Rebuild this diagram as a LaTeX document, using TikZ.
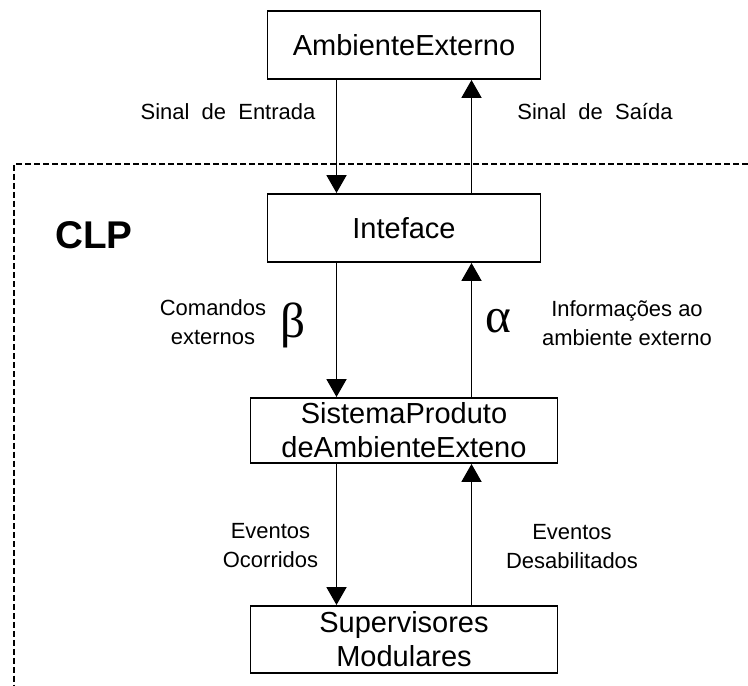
\documentclass[tikz,border=0pt]{standalone}
\usepackage{fontspec}
\setmainfont{Liberation Sans}
\newfontfamily\greekfont{Liberation Serif}
\usetikzlibrary{arrows.meta}

\begin{document}
\begin{tikzpicture}[
    box/.style={draw, line width=1.1pt, align=center, inner sep=0pt,
        font=\fontsize{16.5}{19.5}\selectfont},
    lbl/.style={align=center, font=\fontsize{12.5}{16.5}\selectfont},
    greek/.style={font=\greekfont\fontsize{28}{30}\selectfont},
    flow/.style={line width=1.1pt, -{Triangle[width=0.4cm,length=0.36cm]}}
]
    % Define arrow offset from the box centres
    \def\armOff{1.35cm}

    % Fix the picture size
    \useasboundingbox (0,0) rectangle (14.96,13.72);

    % Draw the dashed CLP border
    \draw[line width=0.8pt, dash pattern=on 3.4pt off 1.7pt] (14.96,10.44) -- (0.28,10.44) -- (0.28,0);
    \node[font=\bfseries\fontsize{22}{26}\selectfont] (clp) at (1.88,9.02) {CLP};

    % Draw the boxes
    \node[box, minimum width=5.46cm, minimum height=1.36cm] (ambiente) at (8.08,12.82) {AmbienteExterno};
    \node[box, minimum width=5.46cm, minimum height=1.36cm] (inteface) at (8.08,9.16) {Inteface};
    \node[box, minimum width=6.14cm, minimum height=1.30cm] (sistema) at (8.08,5.11) {SistemaProduto\\deAmbienteExteno};
    \node[box, minimum width=6.14cm, minimum height=1.34cm] (supervisores) at (8.08,0.93) {Supervisores\\Modulares};

    % Draw the arrows going down
    \draw[flow] ([xshift=-\armOff]ambiente.south) -- ([xshift=-\armOff]inteface.north);
    \draw[flow] ([xshift=-\armOff]inteface.south) -- ([xshift=-\armOff]sistema.north);
    \draw[flow] ([xshift=-\armOff]sistema.south) -- ([xshift=-\armOff]supervisores.north);

    % Draw the arrows going up
    \draw[flow] ([xshift=\armOff]inteface.north) -- ([xshift=\armOff]ambiente.south);
    \draw[flow] ([xshift=\armOff]sistema.north) -- ([xshift=\armOff]inteface.south);
    \draw[flow] ([xshift=\armOff]supervisores.north) -- ([xshift=\armOff]sistema.south);

    % Label the arrows
    \node[lbl] (entrada) at (4.56,11.48) {Sinal\ \ de\ \ Entrada};
    \node[lbl] (saida) at (11.9,11.48) {Sinal\ \ de\ \ Sa\'ida};
    \node[lbl] (comandos) at (4.26,7.28) {Comandos\\externos};
    \node[greek] (beta) at (5.86,7.22) {β};
    \node[greek] (alpha) at (9.96,7.3) {α};
    \node[lbl] (informacoes) at (12.54,7.26) {Informações ao\\ambiente externo};
    \node[lbl] (ocorridos) at (5.41,2.8) {Eventos\\Ocorridos};
    \node[lbl] (desabilitados) at (11.44,2.78) {Eventos\\Desabilitados};

\end{tikzpicture}
\end{document}
